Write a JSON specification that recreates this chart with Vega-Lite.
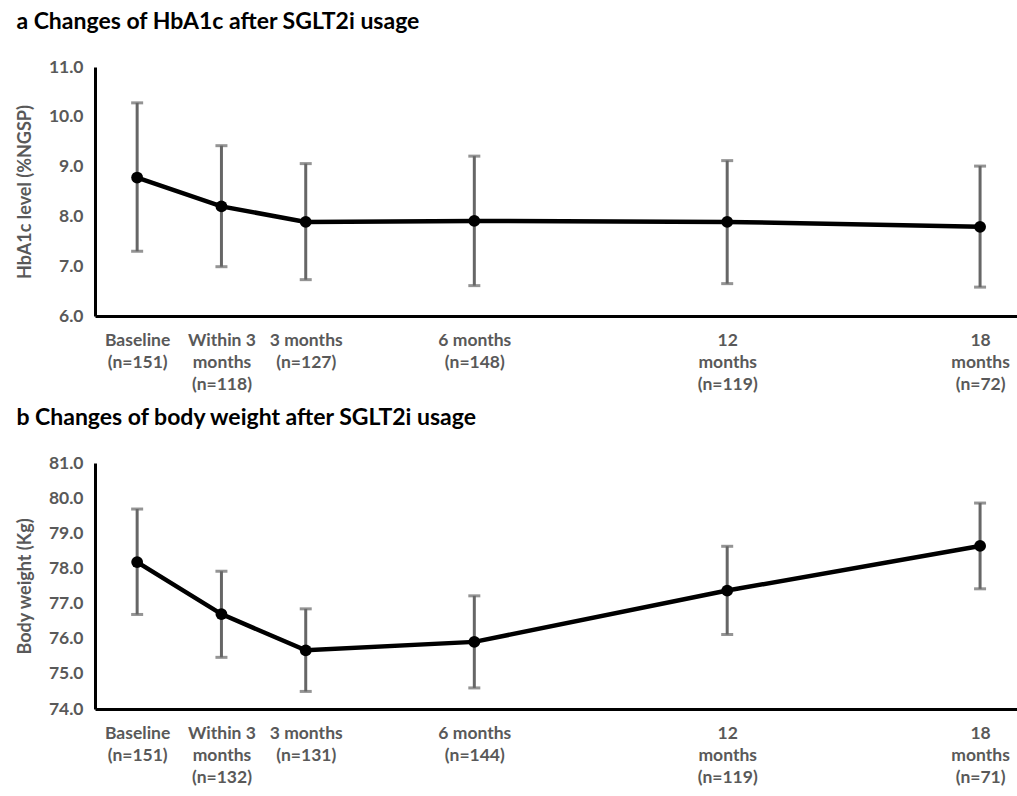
{
  "$schema": "https://vega.github.io/schema/vega-lite/v6.json",
  "background": "white",
  "padding": {"left": 16, "top": 11, "right": 0, "bottom": 0},
  "spacing": 14,
  "config": {
    "font": "Lato",
    "view": {"stroke": null},
    "axis": {
      "labelFont": "Lato", "labelFontWeight": "bold", "labelColor": "#595959", "labelFontSize": 17.5,
      "titleFont": "Lato", "titleFontWeight": "bold", "titleColor": "#595959", "titleFontSize": 18,
      "grid": false, "ticks": false, "domainColor": "black", "domainWidth": 3, "labelOverlap": false
    },
    "axisY": {"labelOverlap": false, "labelPadding": 12, "titlePadding": 14, "format": ".1f"},
    "title": {"font": "Lato", "fontSize": 23, "fontWeight": "bold", "color": "black", "anchor": "start", "frame": "bounds", "offset": 24}
  },
  "datasets": {
    "hba1c": [
      {"t": 0, "period": "Baseline", "mean": 8.78, "lo": 7.30, "hi": 10.28},
      {"t": 1, "period": "Within 3 months", "mean": 8.20, "lo": 6.99, "hi": 9.42},
      {"t": 2, "period": "3 months", "mean": 7.89, "lo": 6.73, "hi": 9.06},
      {"t": 4, "period": "6 months", "mean": 7.91, "lo": 6.61, "hi": 9.21},
      {"t": 7, "period": "12 months", "mean": 7.89, "lo": 6.65, "hi": 9.12},
      {"t": 10, "period": "18 months", "mean": 7.79, "lo": 6.58, "hi": 9.01}
    ],
    "weight": [
      {"t": 0, "period": "Baseline", "mean": 78.18, "lo": 76.69, "hi": 79.69},
      {"t": 1, "period": "Within 3 months", "mean": 76.70, "lo": 75.47, "hi": 77.92},
      {"t": 2, "period": "3 months", "mean": 75.67, "lo": 74.50, "hi": 76.85},
      {"t": 4, "period": "6 months", "mean": 75.91, "lo": 74.60, "hi": 77.22},
      {"t": 7, "period": "12 months", "mean": 77.37, "lo": 76.12, "hi": 78.63},
      {"t": 10, "period": "18 months", "mean": 78.64, "lo": 77.42, "hi": 79.86}
    ]
  },
  "vconcat": [
    {
      "title": "a  Changes of HbA1c after SGLT2i usage",
      "width": 923,
      "height": 249,
      "data": {"name": "hba1c"},
      "encoding": {
        "x": {
          "field": "t", "type": "quantitative", "title": null,
          "scale": {"domain": [-0.5, 10.45], "nice": false, "zero": false},
          "axis": {
            "values": [0, 1, 2, 4, 7, 10], "labelBaseline": "top", "labelLineHeight": 22, "labelPadding": 15,
            "labelOverlap": false, "labelFlush": false, "labelBound": false,
            "labelExpr": "datum.value == 0 ? ['Baseline','(n=151)'] : datum.value == 1 ? ['Within 3','months','(n=118)'] : datum.value == 2 ? ['3 months','(n=127)'] : datum.value == 4 ? ['6 months','(n=148)'] : datum.value == 7 ? ['12','months','(n=119)'] : ['18','months','(n=72)']"
          }
        }
      },
      "layer": [
        {
          "mark": {"type": "rule", "color": "#666666", "strokeWidth": 3},
          "encoding": {
            "y": {"field": "lo", "type": "quantitative", "title": "HbA1c level (%NGSP)",
              "scale": {"domain": [6, 11], "nice": false, "zero": false},
              "axis": {"values": [6, 7, 8, 9, 10, 11], "labelOverlap": false}},
            "y2": {"field": "hi"}
          }
        },
        {
          "mark": {"type": "tick", "color": "#666666", "thickness": 3, "size": 12, "orient": "horizontal"},
          "encoding": {"y": {"field": "lo", "type": "quantitative", "title": "HbA1c level (%NGSP)", "axis": {"values": [6, 7, 8, 9, 10, 11], "labelOverlap": false}}}
        },
        {
          "mark": {"type": "tick", "color": "#666666", "thickness": 3, "size": 12, "orient": "horizontal"},
          "encoding": {"y": {"field": "hi", "type": "quantitative", "title": "HbA1c level (%NGSP)", "axis": {"values": [6, 7, 8, 9, 10, 11], "labelOverlap": false}}}
        },
        {
          "mark": {"type": "line", "color": "black", "strokeWidth": 4.5},
          "encoding": {"y": {"field": "mean", "type": "quantitative", "title": "HbA1c level (%NGSP)", "axis": {"values": [6, 7, 8, 9, 10, 11], "labelOverlap": false}}}
        },
        {
          "mark": {"type": "point", "filled": true, "color": "black", "size": 140, "opacity": 1},
          "encoding": {"y": {"field": "mean", "type": "quantitative", "title": "HbA1c level (%NGSP)", "axis": {"values": [6, 7, 8, 9, 10, 11], "labelOverlap": false}}}
        }
      ]
    },
    {
      "title": "b  Changes of body weight after SGLT2i usage",
      "width": 923,
      "height": 246,
      "data": {"name": "weight"},
      "encoding": {
        "x": {
          "field": "t", "type": "quantitative", "title": null,
          "scale": {"domain": [-0.5, 10.45], "nice": false, "zero": false},
          "axis": {
            "values": [0, 1, 2, 4, 7, 10], "labelBaseline": "top", "labelLineHeight": 22, "labelPadding": 15,
            "labelOverlap": false, "labelFlush": false, "labelBound": false,
            "labelExpr": "datum.value == 0 ? ['Baseline','(n=151)'] : datum.value == 1 ? ['Within 3','months','(n=132)'] : datum.value == 2 ? ['3 months','(n=131)'] : datum.value == 4 ? ['6 months','(n=144)'] : datum.value == 7 ? ['12','months','(n=119)'] : ['18','months','(n=71)']"
          }
        }
      },
      "layer": [
        {
          "mark": {"type": "rule", "color": "#666666", "strokeWidth": 3},
          "encoding": {
            "y": {"field": "lo", "type": "quantitative", "title": "Body weight (Kg)",
              "scale": {"domain": [74, 81], "nice": false, "zero": false},
              "axis": {"values": [74, 75, 76, 77, 78, 79, 80, 81], "labelOverlap": false}},
            "y2": {"field": "hi"}
          }
        },
        {
          "mark": {"type": "tick", "color": "#666666", "thickness": 3, "size": 12, "orient": "horizontal"},
          "encoding": {"y": {"field": "lo", "type": "quantitative", "title": "Body weight (Kg)", "axis": {"values": [74, 75, 76, 77, 78, 79, 80, 81], "labelOverlap": false}}}
        },
        {
          "mark": {"type": "tick", "color": "#666666", "thickness": 3, "size": 12, "orient": "horizontal"},
          "encoding": {"y": {"field": "hi", "type": "quantitative", "title": "Body weight (Kg)", "axis": {"values": [74, 75, 76, 77, 78, 79, 80, 81], "labelOverlap": false}}}
        },
        {
          "mark": {"type": "line", "color": "black", "strokeWidth": 4.5},
          "encoding": {"y": {"field": "mean", "type": "quantitative", "title": "Body weight (Kg)", "axis": {"values": [74, 75, 76, 77, 78, 79, 80, 81], "labelOverlap": false}}}
        },
        {
          "mark": {"type": "point", "filled": true, "color": "black", "size": 140, "opacity": 1},
          "encoding": {"y": {"field": "mean", "type": "quantitative", "title": "Body weight (Kg)", "axis": {"values": [74, 75, 76, 77, 78, 79, 80, 81], "labelOverlap": false}}}
        }
      ]
    }
  ]
}
